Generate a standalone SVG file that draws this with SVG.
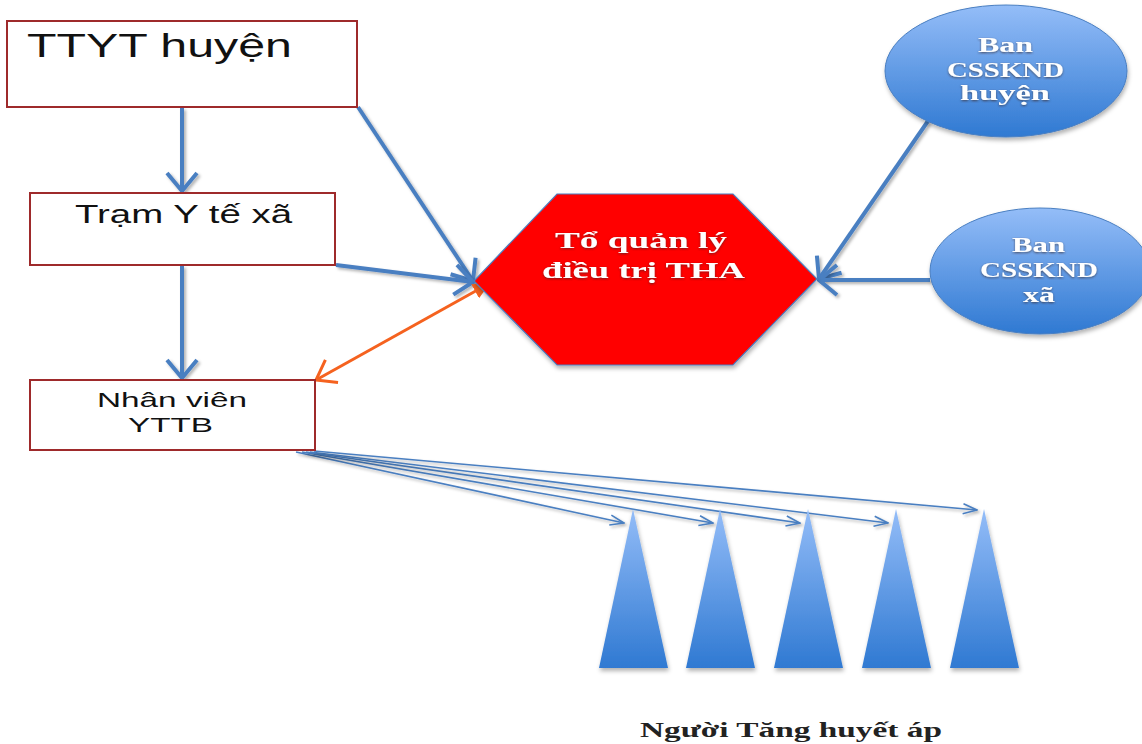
<svg xmlns="http://www.w3.org/2000/svg" width="1142" height="744" viewBox="0 0 1142 744">
  <defs>
    <style>
      .box { fill: #ffffff; stroke: #9e2a2b; stroke-width: 2; }
      .boxtxt { font-family: "Liberation Sans", Arial, sans-serif; fill: #111111; }
      .serif { font-family: "Liberation Serif", "Times New Roman", serif; font-weight: bold; }
      .lbl { fill: #ffffff; filter: url(#txtShadow); }
      .conn { stroke: #4a7fc1; stroke-width: 4; fill: none; filter: url(#lineShadow); }
      .thin { stroke: #4a7fc1; stroke-width: 1.6; fill: none; filter: url(#lineShadow); }
      .orange { stroke: #f5621f; stroke-width: 3; fill: none; }
    </style>
    <linearGradient id="blueGrad" x1="0" y1="0" x2="0" y2="1">
      <stop offset="0" stop-color="#94bdf8"/>
      <stop offset="1" stop-color="#2f79d2"/>
    </linearGradient>
    <!-- user-space region so straight vertical/horizontal lines still render -->
    <filter id="lineShadow" filterUnits="userSpaceOnUse" x="0" y="0" width="1142" height="744">
      <feDropShadow dx="2" dy="2" stdDeviation="1.5" flood-color="#000" flood-opacity="0.3"/>
    </filter>
    <filter id="shapeShadow" x="-10%" y="-10%" width="120%" height="120%">
      <feDropShadow dx="1" dy="3" stdDeviation="2" flood-color="#000" flood-opacity="0.3"/>
    </filter>
    <filter id="txtShadow" x="-10%" y="-20%" width="120%" height="140%">
      <feDropShadow dx="0" dy="1" stdDeviation="1" flood-color="#3a2a2a" flood-opacity="0.7"/>
    </filter>
    <marker id="headBlue" markerUnits="userSpaceOnUse" viewBox="0 0 22 34" markerWidth="22" markerHeight="34" refX="20" refY="17" orient="auto">
      <path d="M2,2 L20,17 L2,32" stroke="#4a7fc1" stroke-width="4" fill="none"/>
    </marker>
    <marker id="headThin" markerUnits="userSpaceOnUse" viewBox="0 0 16 12" markerWidth="16" markerHeight="12" refX="15" refY="6" orient="auto">
      <path d="M1,1 L15,6 L1,11" stroke="#4a7fc1" stroke-width="1.6" fill="none"/>
    </marker>
    <marker id="headOrangeOpen" markerUnits="userSpaceOnUse" viewBox="0 0 22 30" markerWidth="22" markerHeight="30" refX="20" refY="15" orient="auto-start-reverse">
      <path d="M2,2 L20,15 L2,28" stroke="#f5621f" stroke-width="3" fill="none"/>
    </marker>
    <marker id="headOrangeSolid" markerUnits="userSpaceOnUse" viewBox="0 0 18 16" markerWidth="18" markerHeight="16" refX="17" refY="8" orient="auto">
      <path d="M0,0 L17,8 L0,16 Z" fill="#f5621f"/>
    </marker>
  </defs>

  <rect width="1142" height="744" fill="#ffffff"/>

  <!-- connectors -->
  <g id="connectors">
    <line class="conn" x1="182" y1="108" x2="182" y2="191" marker-end="url(#headBlue)"/>
    <line class="conn" x1="182" y1="266" x2="182" y2="378" marker-end="url(#headBlue)"/>
    <line class="conn" x1="358" y1="107" x2="473" y2="281" marker-end="url(#headBlue)"/>
    <line class="conn" x1="336" y1="265" x2="473" y2="282" marker-end="url(#headBlue)"/>
    <line class="conn" x1="928" y1="121" x2="819" y2="279" marker-end="url(#headBlue)"/>
    <line class="conn" x1="930" y1="280" x2="819" y2="280" marker-end="url(#headBlue)"/>
    <line class="orange" x1="316" y1="380" x2="490" y2="283" marker-start="url(#headOrangeOpen)" marker-end="url(#headOrangeSolid)"/>
    <line class="thin" x1="296" y1="452" x2="624" y2="523" marker-end="url(#headThin)"/>
    <line class="thin" x1="302" y1="452" x2="713" y2="523" marker-end="url(#headThin)"/>
    <line class="thin" x1="306" y1="452" x2="800" y2="523" marker-end="url(#headThin)"/>
    <line class="thin" x1="310" y1="452" x2="888" y2="523" marker-end="url(#headThin)"/>
    <line class="thin" x1="314" y1="451" x2="977" y2="510" marker-end="url(#headThin)"/>
  </g>

  <!-- TTYT huyện -->
  <g id="ttyt">
    <rect class="box" x="7" y="21" width="350" height="86"/>
    <text class="boxtxt" x="27" y="57" font-size="33" textLength="265" lengthAdjust="spacingAndGlyphs">TTYT huyện</text>
  </g>

  <!-- Trạm Y tế xã -->
  <g id="tram">
    <rect class="box" x="30" y="193" width="305" height="72"/>
    <text class="boxtxt" x="75" y="223" font-size="25" textLength="217" lengthAdjust="spacingAndGlyphs">Trạm Y tế xã</text>
  </g>

  <!-- Nhân viên YTTB -->
  <g id="nhanvien">
    <rect class="box" x="30" y="380" width="285" height="70"/>
    <text class="boxtxt" x="97" y="407" font-size="21" textLength="150" lengthAdjust="spacingAndGlyphs">Nhân viên</text>
    <text class="boxtxt" x="128" y="432" font-size="21" textLength="85" lengthAdjust="spacingAndGlyphs">YTTB</text>
  </g>

  <!-- Tổ quản lý điều trị THA -->
  <g id="to-quan-ly">
    <polygon points="557,194 733,194 817,279 733,365 557,365 474,281" fill="#ff0000" stroke="#4a7fc1" stroke-width="1.2" filter="url(#shapeShadow)"/>
    <text class="serif lbl" x="555" y="248" font-size="23" textLength="172" lengthAdjust="spacingAndGlyphs">Tổ quản lý</text>
    <text class="serif lbl" x="542" y="278" font-size="23" textLength="203" lengthAdjust="spacingAndGlyphs">điều trị THA</text>
  </g>

  <!-- Ban CSSKND huyện -->
  <g id="ban-huyen">
    <ellipse cx="1006" cy="71" rx="121" ry="66" fill="url(#blueGrad)" stroke="#4a7fc1" stroke-width="1" filter="url(#shapeShadow)"/>
    <text class="serif lbl" x="978" y="52" font-size="20" textLength="55" lengthAdjust="spacingAndGlyphs">Ban</text>
    <text class="serif lbl" x="947" y="77" font-size="20" textLength="117" lengthAdjust="spacingAndGlyphs">CSSKND</text>
    <text class="serif lbl" x="960" y="100" font-size="20" textLength="90" lengthAdjust="spacingAndGlyphs">huyện</text>
  </g>

  <!-- Ban CSSKND xã -->
  <g id="ban-xa">
    <ellipse cx="1040" cy="271" rx="110" ry="63" fill="url(#blueGrad)" stroke="#4a7fc1" stroke-width="1" filter="url(#shapeShadow)"/>
    <text class="serif lbl" x="1012" y="252" font-size="20" textLength="53" lengthAdjust="spacingAndGlyphs">Ban</text>
    <text class="serif lbl" x="980" y="277" font-size="20" textLength="118" lengthAdjust="spacingAndGlyphs">CSSKND</text>
    <text class="serif lbl" x="1023" y="302" font-size="20" textLength="32" lengthAdjust="spacingAndGlyphs">xã</text>
  </g>

  <!-- Người Tăng huyết áp -->
  <g id="nguoi-tha">
    <g fill="url(#blueGrad)" filter="url(#shapeShadow)">
      <polygon points="633,509 668,668 599,668"/>
      <polygon points="720,509 755,668 686,668"/>
      <polygon points="808,509 843,668 774,668"/>
      <polygon points="896,509 931,668 862,668"/>
      <polygon points="984,509 1019,668 950,668"/>
    </g>
    <text class="serif" x="640" y="737" font-size="22" fill="#222222" textLength="302" lengthAdjust="spacingAndGlyphs">Người Tăng huyết áp</text>
  </g>
</svg>
